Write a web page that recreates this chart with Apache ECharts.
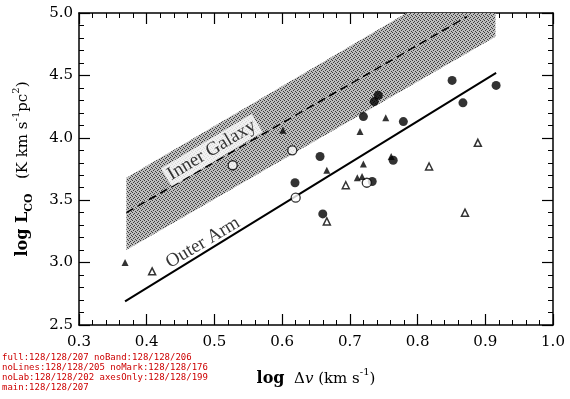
<!DOCTYPE html>
<html>
<head>
<meta charset="utf-8">
<script src="https://cdn.jsdelivr.net/npm/echarts@6/dist/echarts.min.js"></script>
<style>
    html, body { margin: 0; padding: 0; background: #fff; }
    #chart { width: 570px; height: 399px; }
    .off { position: absolute; left: -3000px; top: 0; width: 570px; height: 399px; }
    #diag { position: absolute; left: 2px; top: 352px; font: 9px monospace; color: #c00; width: 250px; }
</style>
</head>
<body>
<div id="chart"></div>
<div id="o0" class="off"></div><div id="o1" class="off"></div><div id="o2" class="off"></div>
<div id="o3" class="off"></div><div id="o4" class="off"></div><div id="o5" class="off"></div>
<div id="diag"></div>
<script>
    const filledCircles = [[0.656, 3.85], [0.619, 3.64], [0.660, 3.39], [0.742, 4.34], [0.736, 4.29], [0.720, 4.17],
        [0.779, 4.13], [0.851, 4.46], [0.916, 4.42], [0.867, 4.28], [0.764, 3.82], [0.733, 3.65]]
    const openCircles = [[0.615, 3.90], [0.527, 3.78], [0.620, 3.52], [0.725, 3.64]]
    const filledTriangles = [[0.601, 4.06], [0.666, 3.74], [0.368, 3.00], [0.753, 4.16], [0.715, 4.05],
        [0.761, 3.85], [0.720, 3.79], [0.711, 3.68], [0.718, 3.69]]
    const openTriangles = [[0.666, 3.33], [0.408, 2.93], [0.889, 3.96], [0.817, 3.77], [0.694, 3.62], [0.870, 3.40]]
    const bandX = [0.37, 0.915]
    const bandLower = [3.10, 4.81]
    const bandUpper = [3.68, 5.42]
    const innerLine = [[0.37, 3.40], [0.873, 4.97]]
    const outerLine = [[0.368, 2.69], [0.916, 4.52]]
    const labelPoints = [
        { name: 'Inner Galaxy', value: [0.496, 3.90], label: { backgroundColor: '#fff', padding: [1, 3] } },
        { name: 'Outer Arm', value: [0.483, 3.16] }
    ]
    const font = 'DejaVu Serif'

    function makePattern() {
        let c = document.createElement('canvas')
        c.width = 4
        c.height = 4
        let ctx = c.getContext('2d')
        ctx.fillStyle = '#bdbdbd'
        ctx.fillRect(0, 0, 4, 4)
        ctx.fillStyle = '#3c3c3c'
        ;[[0, 0], [2, 1], [1, 2], [3, 3]].forEach(d => ctx.fillRect(d[0], d[1], 1, 1))
        return c
    }
    const pattern = makePattern()

    const nameRich = {
        b: { fontFamily: font, fontWeight: 'bold', fontSize: 16, lineHeight: 24, color: '#000' },
        sub: { fontFamily: font, fontWeight: 'bold', fontSize: 11, lineHeight: 24, verticalAlign: 'bottom', color: '#000' },
        n: { fontFamily: font, fontSize: 15, lineHeight: 24, color: '#000' },
        i: { fontFamily: font, fontStyle: 'italic', fontSize: 15, lineHeight: 24, color: '#000' },
        sup: { fontFamily: font, fontSize: 10, lineHeight: 24, verticalAlign: 'top', color: '#000' }
    }

    function xAxis(show) {
        return {
            type: 'value', min: 0.3, max: 1.0, interval: 0.1,
            position: show ? 'bottom' : 'top',
            name: show ? '{b|log}{n|  Δ}{i|v}{n| (km s}{sup|-1}{n|)}' : '',
            nameLocation: 'middle', nameGap: 42,
            nameTextStyle: { rich: nameRich },
            axisLine: { show: true, onZero: false, lineStyle: { color: '#000', width: 1.5 } },
            axisTick: { show: true, inside: true, length: 11, lineStyle: { color: '#000', width: 1.2 } },
            minorTick: { show: true, splitNumber: 5, length: 5, lineStyle: { color: '#000', width: 1 } },
            axisLabel: { show: show, color: '#000', fontFamily: font, fontSize: 15, margin: 10, formatter: v => v.toFixed(1) },
            splitLine: { show: false }
        }
    }
    function yAxis(show) {
        return {
            type: 'value', min: 2.5, max: 5.0, interval: 0.5,
            position: show ? 'left' : 'right',
            name: show ? '{b|log L}{sub|CO}{n|   (K km s}{sup|-1}{n|pc}{sup|2}{n|)}' : '',
            nameLocation: 'middle', nameGap: 44,
            nameTextStyle: { rich: nameRich },
            axisLine: { show: true, onZero: false, lineStyle: { color: '#000', width: 1.5 } },
            axisTick: { show: true, inside: true, length: 11, lineStyle: { color: '#000', width: 1.2 } },
            minorTick: { show: true, splitNumber: 5, length: 5, lineStyle: { color: '#000', width: 1 } },
            axisLabel: { show: show, color: '#000', fontFamily: font, fontSize: 15, margin: 6, formatter: v => v.toFixed(1) },
            splitLine: { show: false }
        }
    }

    function bandSeries() {
        return {
            type: 'custom', clip: true, silent: true, z: 1,
            data: bandX.map((x, k) => [x, bandLower[k], bandUpper[k]]),
            encode: { x: 0, y: [1, 2] },
            renderItem: function (params, api) {
                if (params.dataIndex !== 0) return null
                let pts = []
                for (let k = 0; k < bandX.length; k++) pts.push(api.coord([bandX[k], bandLower[k]]))
                for (let k = bandX.length - 1; k >= 0; k--) pts.push(api.coord([bandX[k], bandUpper[k]]))
                return { type: 'polygon', shape: { points: pts }, style: { fill: { image: pattern, repeat: 'repeat' }, stroke: null } }
            }
        }
    }
    function lineSeries() {
        return [
            { type: 'line', data: innerLine, symbol: 'none', silent: true, lineStyle: { color: '#000', width: 1.5, type: [8, 5] }, z: 2 },
            { type: 'line', data: outerLine, symbol: 'none', silent: true, lineStyle: { color: '#000', width: 2 }, z: 2 }
        ]
    }
    function markerSeries() {
        return [
            { type: 'scatter', data: filledCircles, symbol: 'circle', symbolSize: 9, itemStyle: { color: '#000' }, z: 4 },
            { type: 'scatter', data: openCircles, symbol: 'circle', symbolSize: 9, itemStyle: { color: '#fff', borderColor: '#000', borderWidth: 1.3 }, z: 4 },
            { type: 'scatter', data: filledTriangles, symbol: 'triangle', symbolSize: 7, itemStyle: { color: '#000' }, z: 4 },
            { type: 'scatter', data: openTriangles, symbol: 'triangle', symbolSize: 7, itemStyle: { color: '#fff', borderColor: '#000', borderWidth: 1.5 }, z: 4 }
        ]
    }
    function labelSeries() {
        return {
            type: 'scatter', symbolSize: 0, silent: true, z: 5, data: labelPoints,
            label: { show: true, position: 'inside', rotate: 31, formatter: p => p.name, color: '#000', fontFamily: 'Liberation Serif', fontSize: 19 },
            labelLayout: { hideOverlap: false }
        }
    }
    function build(parts) {
        let s = []
        if (parts.band) s.push(bandSeries())
        if (parts.lines) s = s.concat(lineSeries())
        if (parts.markers) s = s.concat(markerSeries())
        if (parts.labels) s.push(labelSeries())
        return {
            animation: false,
            grid: { left: 79, right: 17, top: 13, bottom: 74 },
            xAxis: [xAxis(true), xAxis(false)],
            yAxis: [yAxis(true), yAxis(false)],
            series: s
        }
    }
    function countLines(ch) {
        let list = ch.getZr().storage.getDisplayList(true)
        let n = 0, vis = 0
        list.forEach(el => {
            if (el.type === 'line') { n++; if (!el.ignore && !el.invisible && el.style && el.style.stroke) vis++ }
        })
        return n + '/' + vis + '/' + list.length
    }

    const chart = echarts.init(document.getElementById('chart'))
    chart.setOption(build({ band: true, lines: true, markers: true, labels: true }))

    const variants = [
        ['full', { band: true, lines: true, markers: true, labels: true }],
        ['noBand', { lines: true, markers: true, labels: true }],
        ['noLines', { band: true, markers: true, labels: true }],
        ['noMark', { band: true, lines: true, labels: true }],
        ['noLab', { band: true, lines: true, markers: true }],
        ['axesOnly', { markers: true }]
    ]
    let out = []
    variants.forEach((v, i) => {
        let c = echarts.init(document.getElementById('o' + i))
        c.setOption(build(v[1]))
        out.push(v[0] + ':' + countLines(c))
    })
    out.push('main:' + countLines(chart))
    document.getElementById('diag').textContent = out.join(' ')
</script>
</body>
</html>
